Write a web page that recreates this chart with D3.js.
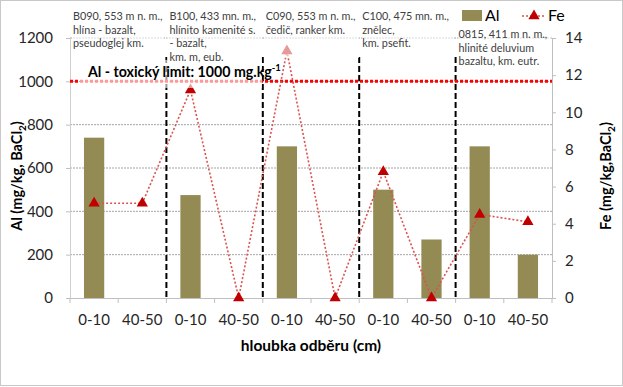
<!DOCTYPE html>
<html><head><meta charset="utf-8">
<script src="https://cdn.jsdelivr.net/npm/d3@7"></script>
<style>
body{margin:0;background:#fff;}
svg{display:block;font-family:Lato,"Open Sans",sans-serif;}
</style></head>
<body><svg id="c" width="623" height="387"></svg>
<script>
const depths = ["0-10","40-50","0-10","40-50","0-10","40-50","0-10","40-50","0-10","40-50"];
const alValues = [740, 0, 475, 0, 700, 0, 500, 270, 700, 200];
const feValues = [5.1, 5.1, 11.2, 0, 13.3, 0, 6.8, 0, 4.5, 4.1];
const alTicks = [0, 200, 400, 600, 800, 1000, 1200];
const feTicks = [0, 2, 4, 6, 8, 10, 12, 14];
const alLimit = 1000;
const separators = [2, 4, 6, 8];
const siteNotes = [
  {start:0, lines:["B090, 553 m n. m.,","hlína - bazalt,","pseudoglej km."]},
  {start:2, lines:["B100, 433 mn. m.,","hlínito kamenité s.","- bazalt,","km. m, eub."]},
  {start:4, lines:["C090, 553 m n. m.,","čedič, ranker km."]},
  {start:6, lines:["C100, 475 mn. m.,","znělec,","km. psefit."]},
  {start:8, lines:["0815, 411 m n. m.,","hlinité deluvium","bazaltu, km. eutr."], offset:1}
];

const svg = d3.select("#c");
const L = 70, R = 552, T = 38, B = 298;
const x = d3.scaleBand().domain(d3.range(depths.length)).range([L, R]).paddingInner(0).paddingOuter(0);
const yAl = d3.scaleLinear().domain([0, 1200]).range([B, T]);
const yFe = d3.scaleLinear().domain([0, 14]).range([B, T]);
const bw = x.bandwidth() * 0.42;

svg.append("rect").attr("x",0.5).attr("y",0.5).attr("width",622).attr("height",385)
  .attr("fill","#fff").attr("stroke","#c8c8c8");

// gridlines
svg.append("g").selectAll("line").data(alTicks.filter(d=>d>0)).join("line")
  .attr("x1",L).attr("x2",R).attr("y1",d=>yAl(d)).attr("y2",d=>yAl(d))
  .attr("stroke","#a6a6a6").attr("stroke-width",1).attr("stroke-dasharray","2,1");

// left axis
const gL = svg.append("g").attr("transform",`translate(${L},0)`)
  .call(d3.axisLeft(yAl).tickValues(alTicks).tickFormat(d3.format("d")).tickSize(4).tickPadding(13));
gL.select(".domain").attr("stroke","#d0d0d0");
gL.selectAll(".tick line").attr("stroke","#bfbfbf");
gL.selectAll("text").attr("font-size",15).attr("fill","#262626").attr("font-family","Lato");

// right axis
const gR = svg.append("g").attr("transform",`translate(${R},0)`)
  .call(d3.axisRight(yFe).tickValues(feTicks).tickFormat(d3.format("d")).tickSize(4).tickPadding(9));
gR.select(".domain").attr("stroke","#bfbfbf");
gR.selectAll(".tick line").attr("stroke","#bfbfbf");
gR.selectAll("text").attr("font-size",15).attr("fill","#262626").attr("font-family","Lato");

// bottom axis
const gB = svg.append("g").attr("transform",`translate(0,${B})`)
  .call(d3.axisBottom(x).tickFormat(i=>depths[i]).tickSize(0).tickPadding(16));
gB.select(".domain").attr("stroke","#bfbfbf");
gB.selectAll("text").attr("font-size",15).attr("fill","#262626").attr("font-family","Lato");
svg.append("g").selectAll("line").data(d3.range(depths.length+1)).join("line")
  .attr("x1",i=>L + i*x.step()).attr("x2",i=>L + i*x.step())
  .attr("y1",B).attr("y2",B+5).attr("stroke","#bfbfbf");

// bars
svg.append("g").selectAll("rect").data(alValues).join("rect")
  .attr("x",(d,i)=>x(i)+x.bandwidth()/2-bw/2).attr("width",bw)
  .attr("y",d=>yAl(d)).attr("height",d=>yAl(0)-yAl(d))
  .attr("fill","#948a54");

// separators
svg.append("g").selectAll("line").data(separators).join("line")
  .attr("x1",i=>x(i)).attr("x2",i=>x(i)).attr("y1",57).attr("y2",B)
  .attr("stroke","#000").attr("stroke-width",2).attr("stroke-dasharray","6,3");

// limit line
svg.append("line").attr("x1",L).attr("x2",R).attr("y1",yAl(alLimit)).attr("y2",yAl(alLimit))
  .attr("stroke","#ff0000").attr("stroke-width",3).attr("stroke-dasharray","3,2");

// Fe line
const line = d3.line().x((d,i)=>x(i)+x.bandwidth()/2).y(d=>yFe(d));
svg.append("path").datum(feValues).attr("d",line).attr("fill","none")
  .attr("stroke","#d9534f").attr("stroke-width",1.6).attr("stroke-dasharray","2,2");
const tri = d3.symbol().type(d3.symbolTriangle).size(55);
svg.append("g").selectAll("path").data(feValues).join("path")
  .attr("d",tri).attr("transform",(d,i)=>`translate(${x(i)+x.bandwidth()/2},${yFe(d)})`)
  .attr("fill","#c00000");

// semi-transparent text boxes
const boxes = [[72,4,92,50],[167,4,95,63],[265,4,94,54],[362,4,92,50],[458,24,93,48],[80,60,182,28]];
svg.append("g").selectAll("rect").data(boxes).join("rect")
  .attr("x",d=>d[0]).attr("y",d=>d[1]).attr("width",d=>d[2]).attr("height",d=>d[3])
  .attr("fill","#fff").attr("opacity",0.6);

// notes
siteNotes.forEach(n=>{
  const t = svg.append("text").attr("x",x(n.start)+3).attr("y",20 + (n.offset?18:0))
    .attr("font-size",10.8).attr("fill","#404040").attr("font-family","Lato");
  n.lines.forEach((s,k)=>t.append("tspan").attr("x",x(n.start)+3).attr("dy",k?13.5:0).text(s));
});

// limit label
const lt = svg.append("text").attr("x",88).attr("y",77).attr("font-size",14.2)
  .attr("font-weight","bold").attr("fill","#000").attr("font-family","Lato");
lt.append("tspan").text("Al - toxický limit: " + alLimit + " mg.kg");
lt.append("tspan").attr("dy",-6).attr("font-size",9.5).text("-1");

// legend
svg.append("rect").attr("x",462).attr("y",10).attr("width",20).attr("height",11).attr("fill","#948a54");
svg.append("text").attr("x",485).attr("y",21).attr("font-size",16).attr("fill","#000").text("Al");
svg.append("line").attr("x1",522).attr("x2",546).attr("y1",16).attr("y2",16)
  .attr("stroke","#d9534f").attr("stroke-width",1.6).attr("stroke-dasharray","2,2");
svg.append("path").attr("d",tri).attr("transform","translate(534,16)").attr("fill","#c00000");
svg.append("text").attr("x",548).attr("y",21).attr("font-size",16).attr("fill","#000").text("Fe");

// axis titles
const at = svg.append("text").attr("transform","translate(22,176) rotate(-90)").attr("text-anchor","middle")
  .attr("font-size",14.5).attr("font-weight","bold").attr("fill","#000");
at.append("tspan").text("Al (mg/kg, BaCl");
at.append("tspan").attr("dy",4).attr("font-size",10).text("2");
at.append("tspan").attr("dy",-4).text(")");
const ft = svg.append("text").attr("transform","translate(611,176) rotate(-90)").attr("text-anchor","middle")
  .attr("font-size",14.5).attr("font-weight","bold").attr("fill","#000");
ft.append("tspan").text("Fe (mg/kg,BaCl");
ft.append("tspan").attr("dy",4).attr("font-size",10).text("2");
ft.append("tspan").attr("dy",-4).text(")");
svg.append("text").attr("x",311).attr("y",351).attr("text-anchor","middle")
  .attr("font-size",15.5).attr("font-weight","bold").attr("fill","#000").text("hloubka odběru (cm)");
</script></body></html>
